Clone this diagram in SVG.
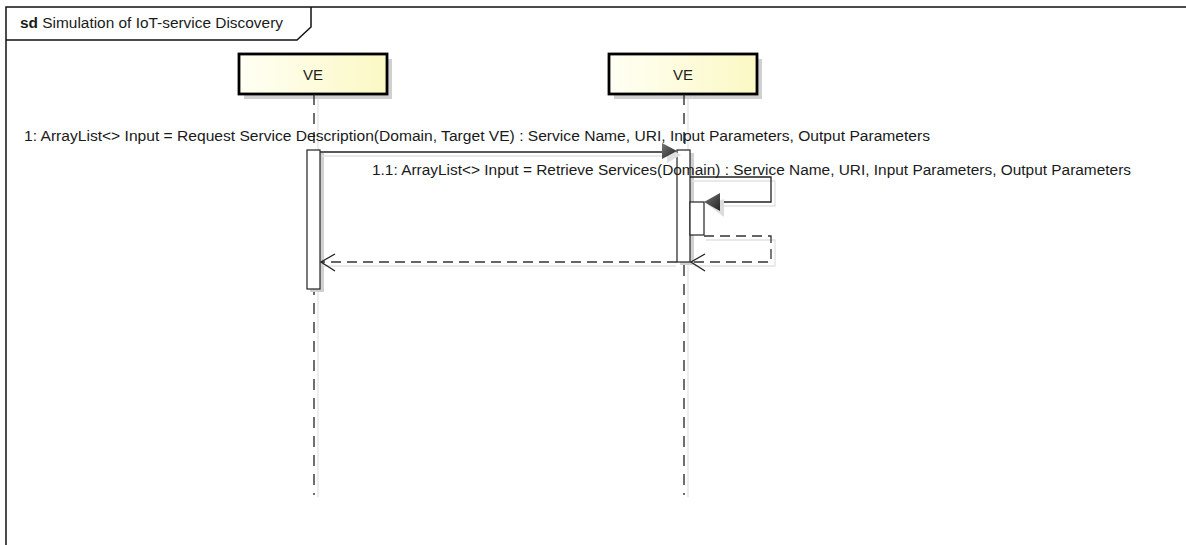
<svg xmlns="http://www.w3.org/2000/svg" width="1186" height="545" viewBox="0 0 1186 545">
  <style>
    .lbl { font-family: "Liberation Sans", Arial, sans-serif; font-size: 14px; fill: #1a1a1a; }
    .head { font-family: "Liberation Sans", Arial, sans-serif; font-size: 15px; fill: #222; }
    .frame { fill: none; stroke: #111; stroke-width: 1.5; }
    .box { fill: url(#lifeFill); stroke: #000; stroke-width: 2.8; }
    .boxShadow { fill: #d0d0d0; }
    .life { stroke: #222; stroke-width: 1.3; stroke-dasharray: 11 8; fill: none; }
    .lifeShadow { stroke: #e4e4e4; stroke-width: 1.3; fill: none; }
    .act { fill: #fff; stroke: #222; stroke-width: 1.2; }
    .msg { fill: none; stroke: #222; stroke-width: 1.3; }
    .ret { fill: none; stroke: #333; stroke-width: 1.3; stroke-dasharray: 10 6; }
    .shadow { fill: none; stroke: #e2e2e2; stroke-width: 1.3; }
  </style>
  <defs>
    <linearGradient id="lifeFill" x1="0" y1="0" x2="1" y2="0">
      <stop offset="0" stop-color="#fffff4"/>
      <stop offset="1" stop-color="#fbf8c4"/>
    </linearGradient>
    <linearGradient id="headFill" x1="0" y1="0" x2="1" y2="1">
      <stop offset="0" stop-color="#777"/>
      <stop offset="1" stop-color="#222"/>
    </linearGradient>
  </defs>

  <rect width="1186" height="545" fill="#fff"/>

  <!-- sequence diagram frame -->
  <g id="frame">
    <path class="frame" d="M6 545 V7 H1186"/>
    <path class="frame" d="M6 40 H297 L311 27 V7"/>
    <text x="20" y="28" class="lbl" textLength="263" lengthAdjust="spacingAndGlyphs"><tspan font-weight="bold">sd</tspan> Simulation of IoT-service Discovery</text>
  </g>

  <!-- lifeline: first VE -->
  <g id="ve1">
    <rect class="boxShadow" x="244" y="59" width="148" height="40"/>
    <rect class="box" x="239" y="54" width="148" height="40"/>
    <text x="313" y="80" class="head" text-anchor="middle">VE</text>
    <line class="lifeShadow" x1="318" y1="99" x2="318" y2="497"/>
    <line class="life" x1="314" y1="94" x2="314" y2="495"/>
    <rect class="boxShadow" x="310" y="153" width="14" height="139" fill="#e8e8e8"/>
    <rect class="act" x="307" y="150" width="13" height="139"/>
  </g>

  <!-- lifeline: second VE -->
  <g id="ve2">
    <rect class="boxShadow" x="614" y="59" width="148" height="40"/>
    <rect class="box" x="609" y="54" width="148" height="40"/>
    <text x="683" y="80" class="head" text-anchor="middle">VE</text>
    <line class="lifeShadow" x1="688" y1="99" x2="688" y2="497"/>
    <line class="life" x1="684" y1="94" x2="684" y2="495"/>
    <rect class="boxShadow" x="680" y="153" width="14" height="112" fill="#e8e8e8"/>
    <rect class="act" x="677" y="150" width="13" height="112"/>
    <rect class="act" x="690" y="202" width="14" height="33"/>
  </g>

  <!-- messages -->
  <g id="connectors">
    <!-- 1: request -->
    <line class="shadow" x1="322" y1="156" x2="676" y2="156"/>
    <line class="msg" x1="320" y1="152" x2="664" y2="152"/>
    <polygon points="664,143 678,151 664,159" fill="#e0e0e0" transform="translate(3,4)"/>
    <polygon points="662,143 677,151 662,159" fill="url(#headFill)"/>
    <text class="lbl" x="24" y="141" textLength="906" lengthAdjust="spacingAndGlyphs">1: ArrayList&lt;&gt; Input = Request Service Description(Domain, Target VE) : Service Name, URI, Input Parameters, Output Parameters</text>

    <!-- 1.1: self call -->
    <path class="shadow" d="M692 181 H775 V206 H720"/>
    <path class="msg" d="M690 177 H771 V202 H719"/>
    <polygon points="722,196 706,202 722,214" fill="#dcdcdc" transform="translate(2,3)"/>
    <polygon points="720,193 704,202 720,211" fill="url(#headFill)"/>
    <text class="lbl" x="372" y="175" textLength="759" lengthAdjust="spacingAndGlyphs">1.1: ArrayList&lt;&gt; Input = Retrieve Services(Domain) : Service Name, URI, Input Parameters, Output Parameters</text>

    <!-- 1.1 return -->
    <path class="shadow" d="M706 240 H775 V266 H694"/>
    <path class="ret" d="M704 236 H771 V262 H691"/>
    <path class="msg" d="M705 254 L691 262 L705 271"/>

    <!-- 1 return -->
    <line class="shadow" x1="676" y1="266" x2="323" y2="266"/>
    <line class="ret" x1="677" y1="262" x2="321" y2="262"/>
    <path class="msg" d="M335 254 L321 262 L335 271"/>
  </g>
</svg>
